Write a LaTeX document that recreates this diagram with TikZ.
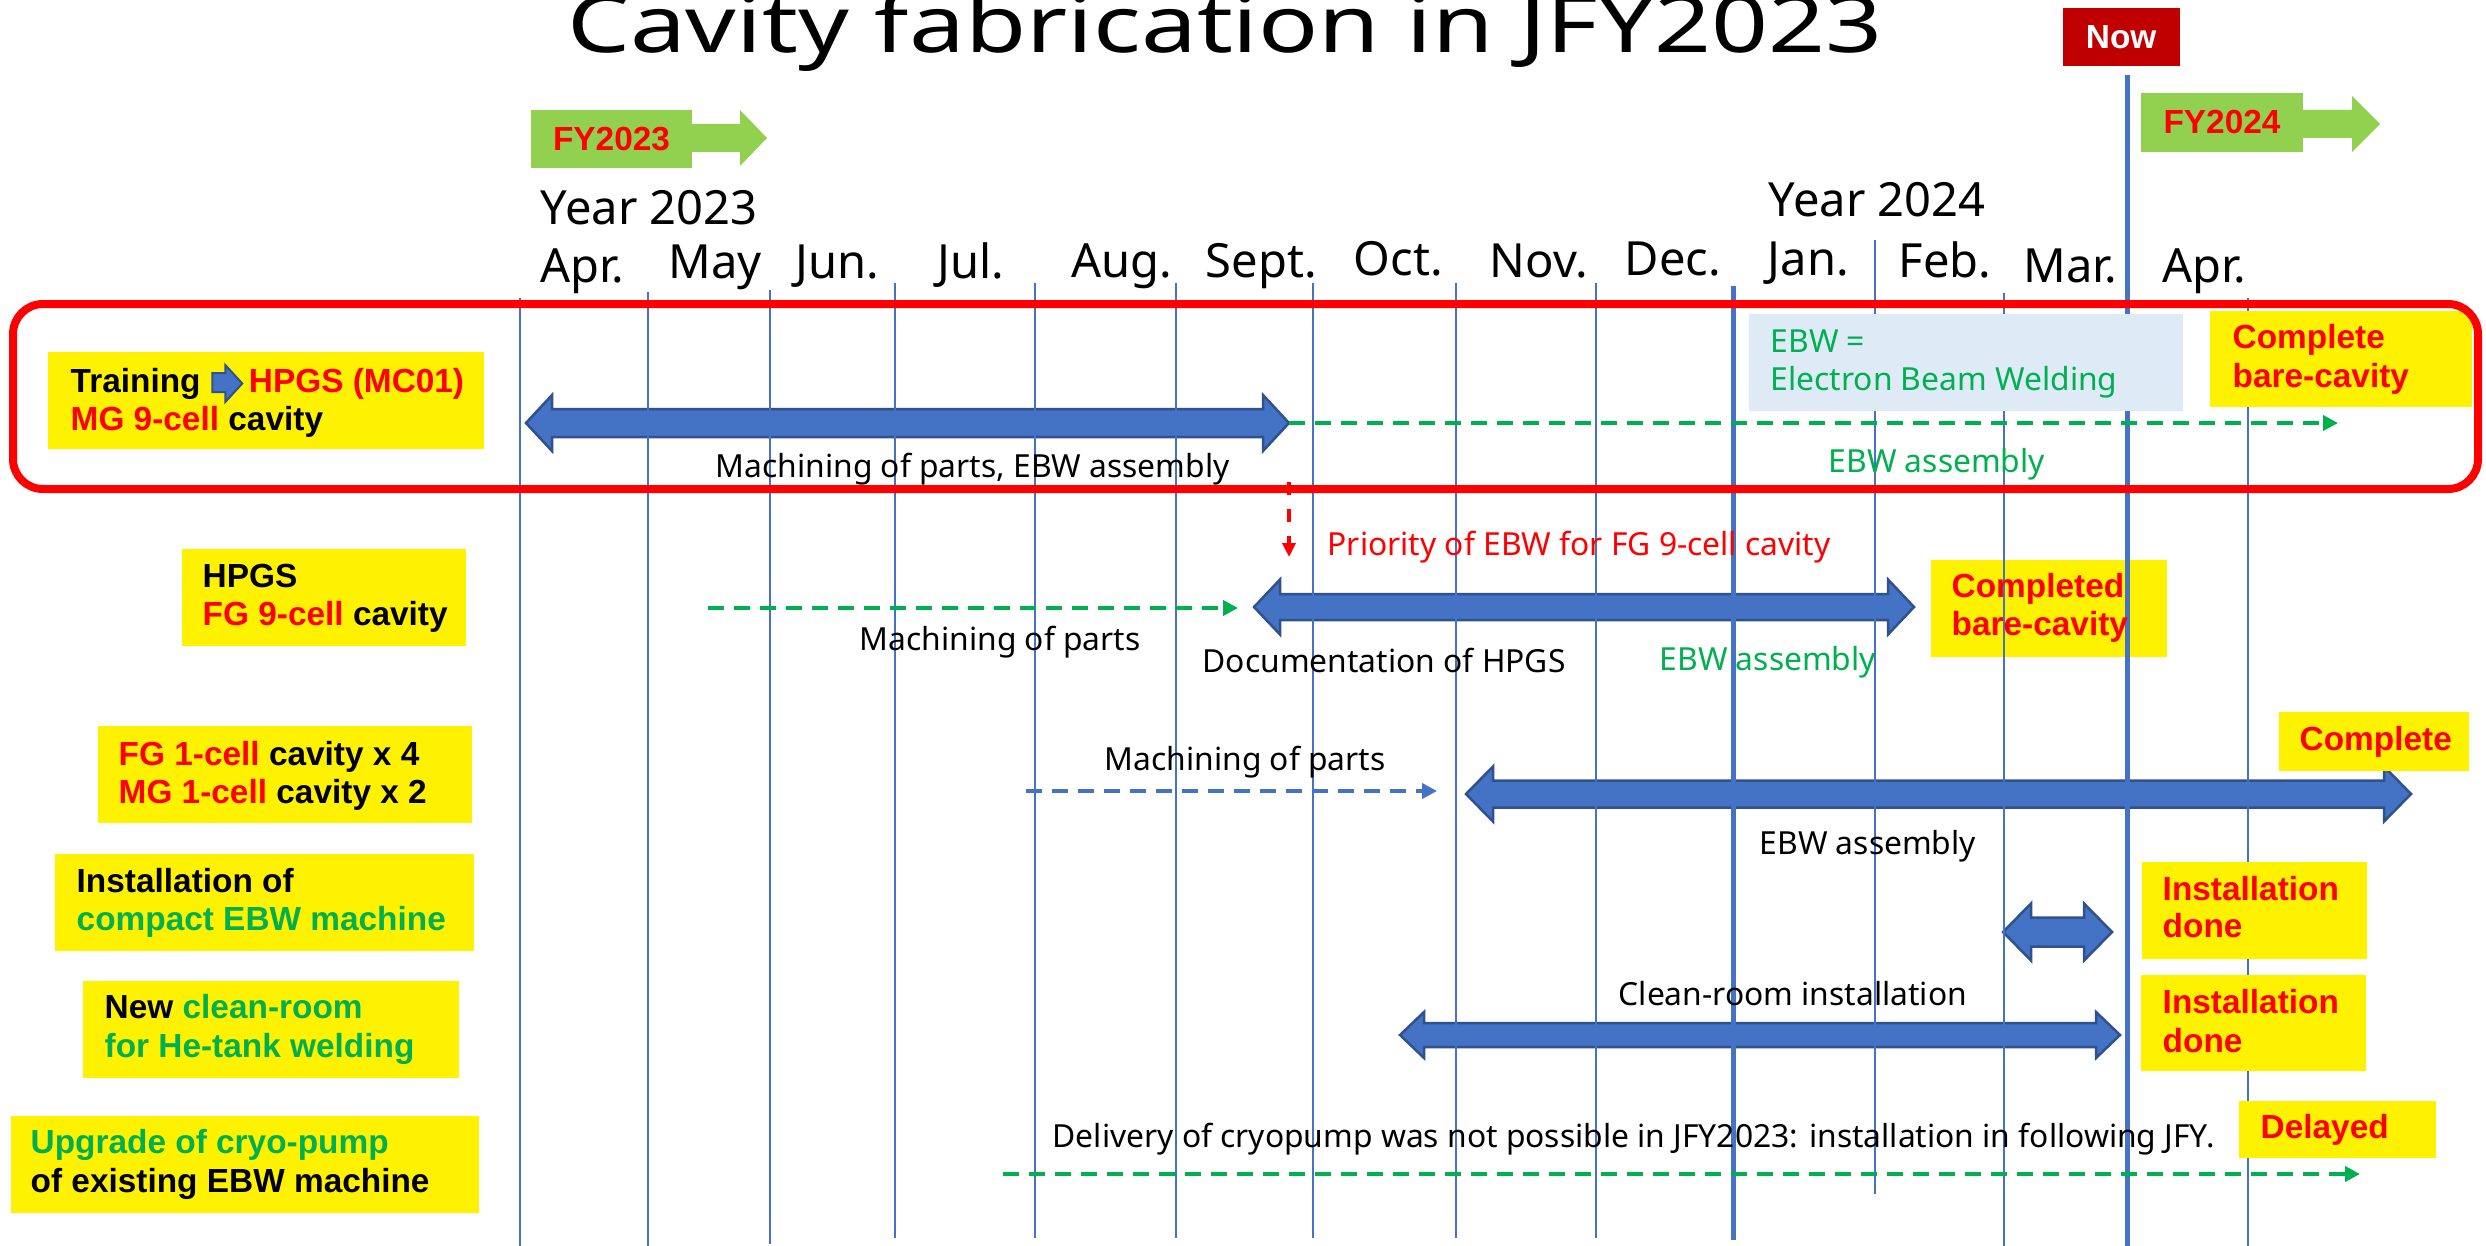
\documentclass[tikz,border=0pt]{standalone}
\usepackage{fontspec}
\setmainfont{Noto Sans}
\newfontfamily\arialf{Liberation Sans}
\usetikzlibrary{arrows.meta,calc}
\definecolor{ybl}{HTML}{4472C4}
\definecolor{ybd}{HTML}{2F528F}
\definecolor{gtext}{HTML}{00B050}
\definecolor{fygreen}{HTML}{92D050}
\definecolor{nowred}{HTML}{C00000}
\definecolor{ebwbg}{HTML}{DEEBF7}
\newcommand\DblArr[6]{%
  \draw[barr] (#1,#3) -- (#1+#4,#3-#6) -- (#1+#4,#3-#5) -- (#2-#4,#3-#5) -- (#2-#4,#3-#6) -- (#2,#3)
   -- (#2-#4,#3+#6) -- (#2-#4,#3+#5) -- (#1+#4,#3+#5) -- (#1+#4,#3+#6) -- cycle;}
\begin{document}
\begin{tikzpicture}[x=0.1mm,y=-0.1mm,
  mline/.style={draw=ybl, line width=0.15mm},
  tline/.style={draw=ybl, line width=0.5mm},
  barr/.style={fill=ybl, draw=ybd, line width=0.25mm, line join=miter},
  yb/.style={fill=yellow, anchor=north west, inner sep=0, outer sep=0},
  bt/.style={anchor=base west, inner sep=0, font=\arialf\bfseries\fontsize{9.5}{11}\selectfont},
  lt/.style={anchor=base west, inner sep=0, font=\fontsize{9.05}{10}\selectfont},
  mt/.style={anchor=base west, inner sep=0, font=\fontsize{13.4}{16}\selectfont},
  dsh/.style={line width=0.45mm, dash pattern=on 1.6mm off 1mm, -{Triangle[length=1.5mm,width=1.5mm]}},
  fyb/.style={fill=fygreen, anchor=north west, inner sep=0, outer sep=0, text=red, font=\arialf\bfseries\fontsize{9.5}{11}\selectfont}
]
\useasboundingbox[fill=white] (0,0) rectangle (2486,1246);

% title
\node[anchor=base, inner sep=0, font=\fontsize{22.5}{26}\selectfont] (title) at (1225,53) {\scalebox{1.26}[1]{Cavity fabrication in JFY2023}};

% Now box
\node[anchor=north west, fill=nowred, inner sep=0, minimum width=11.7mm, minimum height=5.8mm, text=white, font=\arialf\bfseries\fontsize{9.5}{11}\selectfont] (now) at (2062,7) {Now};

% FY arrows
\node[fyb, minimum width=16.1mm, minimum height=5.8mm] (fy23) at (531,110) {FY2023};
\fill[fygreen] (692,124) -- (740,124) -- (740,110) -- (767,138) -- (740,166) -- (740,152) -- (692,152) -- cycle;
\node[fyb, minimum width=16.2mm, minimum height=5.9mm] (fy24) at (2141,93) {FY2024};
\fill[fygreen] (2303,110) -- (2352,110) -- (2352,96) -- (2380,124) -- (2352,152) -- (2352,138) -- (2303,138) -- cycle;

% year / month labels
\node[mt] (y23) at (540,225) {Year 2023};
\node[mt] (y24) at (1768,217) {Year 2024};
\node[mt] (m1) at (540,282) {Apr.};
\node[mt] (m2) at (668,278) {May};
\node[mt] (m3) at (795,278) {Jun.};
\node[mt] (m4) at (937,278) {Jul.};
\node[mt] (m5) at (1071,277) {Aug.};
\node[mt] (m6) at (1205,277) {Sept.};
\node[mt] (m7) at (1353,275) {Oct.};
\node[mt] (m8) at (1489,277) {Nov.};
\node[mt] (m9) at (1624,275) {Dec.};
\node[mt] (m10) at (1767,275) {Jan.};
\node[mt] (m11) at (1898,277) {Feb.};
\node[mt] (m12) at (2023,282) {Mar.};
\node[mt] (m13) at (2162,282) {Apr.};

% box under lines
\node[yb, minimum width=23.6mm, minimum height=9.7mm] (r2) at (1931,560) {};

% blue double arrows
\DblArr{526}{1289}{423}{26}{14}{28}
\DblArr{1254}{1914}{607}{26}{13}{27.5}
\DblArr{1466}{2411}{794}{27}{13.5}{27.5}
\DblArr{2003}{2112}{932}{28}{14.5}{28.5}
\DblArr{1400}{2120}{1035}{24}{12}{23}

% month grid lines
\foreach \x/\t/\b in {520/298/1246, 648/292/1246, 770/290/1244, 895/283/1238, 1035/283/1238,
  1176/283/1238, 1313/283/1238, 1456/283/1238, 1596/283/1238, 1875/240/1194, 2004/293/1246, 2248/298/1246}
  \draw[mline] (\x,\t) -- (\x,\b);
\draw[tline] (1733,286) -- (1733,1240);
\draw[tline] (2127,75) -- (2127,1246);

% boxes over lines
\node[anchor=north west, fill=ebwbg, inner sep=0, outer sep=0, minimum width=43.4mm, minimum height=9.7mm] (ebw) at (1749,314) {};
\node[yb, minimum width=26.2mm, minimum height=9.6mm] (r1) at (2210,311) {};
\node[yb, minimum width=19.0mm, minimum height=5.9mm] (r3) at (2279,712) {};
\node[yb, minimum width=22.5mm, minimum height=9.7mm] (r4) at (2142,862) {};
\node[yb, minimum width=22.5mm, minimum height=9.6mm] (r5) at (2141,975) {};
\node[yb, minimum width=19.7mm, minimum height=5.7mm] (r6) at (2239,1101) {};

\node[yb, minimum width=43.6mm, minimum height=9.7mm] (b1) at (48,352) {};
\node[yb, minimum width=28.4mm, minimum height=9.7mm] (b2) at (182,549) {};
\node[yb, minimum width=37.4mm, minimum height=9.7mm] (b3) at (98,726) {};
\node[yb, minimum width=41.9mm, minimum height=9.7mm] (b4) at (55,854) {};
\node[yb, minimum width=37.6mm, minimum height=9.7mm] (b5) at (83,981) {};
\node[yb, minimum width=46.8mm, minimum height=9.7mm] (b6) at (11,1116) {};

% red frame
\draw[red, line width=0.8mm, rounded corners=3mm] (13,304) rectangle (2478,489);

% dashed connectors
\coordinate (g1s) at (1289,423); \coordinate (g1e) at (2338,423);
\draw[dsh, gtext] (g1s) -- (g1e);
\coordinate (rds) at (1289,482); \coordinate (rde) at (1289,557);
\draw[red, line width=0.35mm, dash pattern=on 1.3mm off 1.4mm, -{Triangle[length=1.4mm,width=1.3mm]}] (rds) -- (rde);
\coordinate (g2s) at (708,608); \coordinate (g2e) at (1238,608);
\draw[dsh, gtext] (g2s) -- (g2e);
\coordinate (bds) at (1026,791); \coordinate (bde) at (1437,791);
\draw[dsh, ybl] (bds) -- (bde);
\coordinate (g6s) at (1003,1174); \coordinate (g6e) at (2360,1174);
\draw[dsh, gtext] (g6s) -- (g6e);

% box texts
\node[bt] (t1a) at (70,392) {Training};
\coordinate (ic) at ($(t1a.base east)+(11,0)$);
\draw[fill=ybl, draw=ybd, line width=0.2mm] ($(ic)+(0,-19)$) -- ++(13,0) -- ++(0,-8) -- ++(17,18.5) -- ++(-17,18.5) -- ++(0,-10) -- ++(-13,0) -- cycle;
\node[bt, text=red] (t1b) at ($(ic)+(36,0)$) {HPGS (MC01)};
\node[bt] (t1c) at (70,430) {\textcolor{red}{MG 9-cell} cavity};

\node[bt] (t2a) at (202,587) {HPGS};
\node[bt] (t2b) at (202,625) {\textcolor{red}{FG 9-cell} cavity};

\node[bt] (t3a) at (118,765) {\textcolor{red}{FG 1-cell} cavity x 4};
\node[bt] (t3b) at (118,803) {\textcolor{red}{MG 1-cell} cavity x 2};

\node[bt] (t4a) at (76,892) {Installation of};
\node[bt, text=gtext] (t4b) at (76,930) {compact EBW machine};

\node[bt] (t5a) at (104,1018) {New \textcolor{gtext}{clean-room}};
\node[bt, text=gtext] (t5b) at (104,1057) {for He-tank welding};

\node[bt, text=gtext] (t6a) at (30,1153) {Upgrade of cryo-pump};
\node[bt] (t6b) at (30,1192) {of existing EBW machine};

\node[bt, text=red] (s1a) at (2232,348) {Complete};
\node[bt, text=red] (s1b) at (2232,387) {bare-cavity};
\node[bt, text=red] (s2a) at (1951,597) {Completed};
\node[bt, text=red] (s2b) at (1951,635) {bare-cavity};
\node[bt, text=red] (s3) at (2299,750) {Complete};
\node[bt, text=red] (s4a) at (2162,900) {Installation};
\node[bt, text=red] (s4b) at (2162,937) {done};
\node[bt, text=red] (s5a) at (2162,1013) {Installation};
\node[bt, text=red] (s5b) at (2162,1052) {done};
\node[bt, text=red] (s6) at (2260,1138) {Delayed};

\node[lt, text=gtext] (e1) at (1770,352) {EBW =};
\node[lt, text=gtext] (e2) at (1770,390) {Electron Beam Welding};

% labels
\node[lt] (l1) at (715,477) {Machining of parts, EBW assembly};
\node[lt, text=gtext] (l2) at (1828,472) {EBW assembly};
\node[lt, text=red] (l3) at (1327,555) {Priority of EBW for FG 9-cell cavity};
\node[lt] (l4) at (859,650) {Machining of parts};
\node[lt] (l5) at (1202,672) {Documentation of HPGS};
\node[lt, text=gtext] (l6) at (1659,670) {EBW assembly};
\node[lt] (l7) at (1104,770) {Machining of parts};
\node[lt] (l8) at (1759,854) {EBW assembly};
\node[lt] (l9) at (1618,1005) {Clean-room installation};
\node[lt] (l10) at (1052,1147) {Delivery of cryopump was not possible in JFY2023: installation in following JFY.};
\end{tikzpicture}
\end{document}
